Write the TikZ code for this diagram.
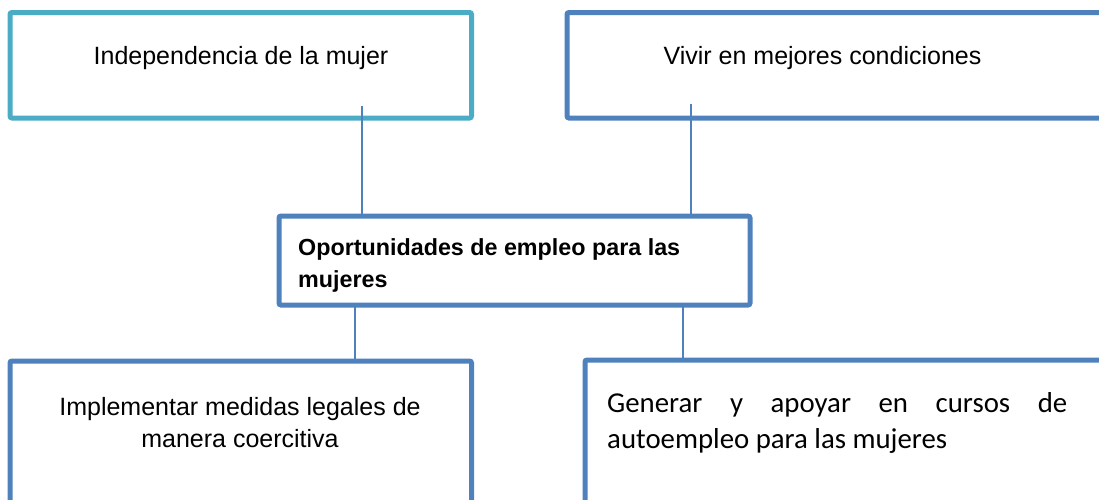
\documentclass[tikz,border=0pt]{standalone}
\usepackage{fontspec}
\setmainfont{Liberation Sans}
\newfontfamily\calibrifont{Carlito}
\usetikzlibrary{positioning}
\definecolor{tealline}{HTML}{4BACC6}
\definecolor{blueline}{HTML}{4F81BD}

\begin{document}
\begin{tikzpicture}[x=1pt,y=-1pt,
      box node/.style={rectangle,draw=blueline,line width=5pt,rounded corners=2pt,inner sep=0pt},
      txt node/.style={inner sep=0pt,font=\fontsize{25}{32}\selectfont},
      connector/.style={draw=blueline,line width=1.5pt}]
      \useasboundingbox (0,0) rectangle (1099,499);

      % boxes
      \node[box node,draw=tealline,minimum width=461.5pt,minimum height=105.5pt] (ind) at (240.75,65.25) {};
      \node[box node,minimum width=553pt,minimum height=105.5pt] (viv) at (843.5,65.25) {};
      \node[box node,minimum width=471pt,minimum height=89pt] (opo) at (514.5,260.5) {};
      \node[box node,minimum width=461.5pt,minimum height=179pt] (imp) at (240.75,450.5) {};
      \node[box node,minimum width=535pt,minimum height=180pt] (gen) at (852.5,450) {};

      % texts
      \node[txt node,anchor=base] (ind text) at (241,64) {Independencia de la mujer};
      \node[txt node,anchor=base] (viv text) at (822.5,64) {Vivir en mejores condiciones};
      \node[txt node,anchor=base west,font=\fontsize{23.3}{32}\selectfont\bfseries,align=left]
        (opo text) at (298,287) {Oportunidades de empleo para las\\mujeres};
      \node[txt node,anchor=base,align=center] (imp text) at (240,447)
        {Implementar medidas legales de\\manera coercitiva};
      \node[txt node,anchor=base west,text width=460pt,align=justify,
        font=\calibrifont\fontsize{28.8}{36}\selectfont] (gen text) at (607,412)
        {\hyphenpenalty=10000\relax Generar y apoyar en cursos de\linebreak autoempleo para las mujeres};

      % connectors
      \coordinate (ind end) at (362,106);
      \coordinate (viv end) at (691,104);
      \coordinate (opo left) at (355,305);
      \coordinate (opo right) at (683,305);
      \path[connector]
        (ind end) -- (ind end |- opo.north)
        (viv end) -- (viv end |- opo.north)
        (opo left) -- (opo left |- imp.north)
        (opo right) -- (opo right |- gen.north);
    \end{tikzpicture}
\end{document}
